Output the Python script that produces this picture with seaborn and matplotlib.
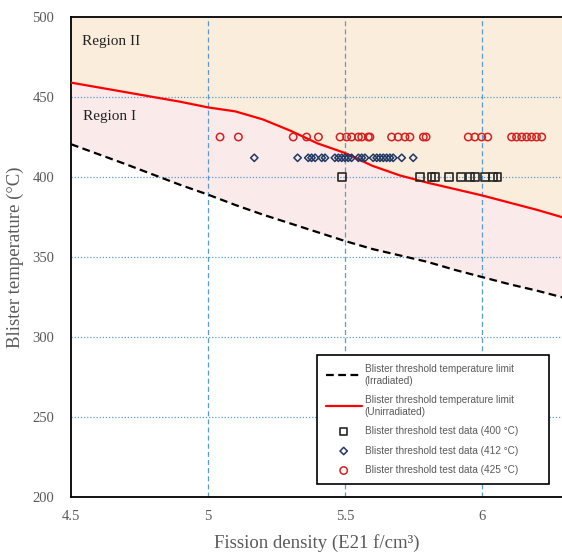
import matplotlib
matplotlib.use("Agg")
import matplotlib.pyplot as plt
import seaborn as sns
import pandas as pd

# Threshold curves (fission density in E21 f/cm3, temperature in C)
curve_fd = [4.5, 4.7, 4.9, 5.0, 5.1, 5.2, 5.3, 5.4, 5.5, 5.6, 5.7, 5.8, 5.9, 6.0, 6.1, 6.2, 6.3]
limit_irradiated = [420.5, 408, 395, 389, 382.5, 376.5, 371, 365.5, 360, 355, 351, 347, 342, 337.5, 333, 329, 324.5]
limit_unirradiated = [459, 453, 447, 443.5, 441, 436, 429, 421, 415, 407, 401, 396.5, 392.5, 388.5, 384, 379.5, 374.5]

# Blister threshold test data
fd_400 = [5.49, 5.774, 5.816, 5.828, 5.880, 5.923, 5.956, 5.974, 6.011, 6.041, 6.056]
fd_412 = [5.169, 5.327, 5.366, 5.378, 5.391, 5.415, 5.427, 5.463, 5.476, 5.488, 5.500,
          5.512, 5.524, 5.549, 5.561, 5.573, 5.603, 5.616, 5.628, 5.640, 5.652, 5.664,
          5.676, 5.707, 5.749]
fd_425 = [5.044, 5.111, 5.311, 5.360, 5.403, 5.482, 5.506, 5.524, 5.549, 5.561, 5.585,
          5.591, 5.670, 5.694, 5.719, 5.737, 5.786, 5.796, 5.950, 5.974, 5.999, 6.021,
          6.108, 6.126, 6.145, 6.163, 6.181, 6.199, 6.218]

curves = pd.DataFrame({"fd": curve_fd, "irr": limit_irradiated, "unirr": limit_unirradiated})

sns.set_theme(style="white")
plt.rcParams["font.family"] = ["Liberation Serif", "DejaVu Serif"]

fig = plt.figure(figsize=(5.62, 5.52), dpi=100)
ax = fig.add_axes([0.1263, 0.0996, 0.8737, 0.8696])

grid_c = "#5B9BD5"
ax.fill_between(curves["fd"], curves["unirr"], 500, color="#FBEDDC", lw=0, zorder=0)
ax.fill_between(curves["fd"], curves["irr"], curves["unirr"], color="#FBEAEA", lw=0, zorder=0)

for xv in [5.0, 5.5, 6.0]:
    ax.axvline(xv, color=grid_c, lw=0.9, ls=(0, (4, 2.5)), zorder=1)
for yv in [250, 300, 350, 400, 450]:
    ax.axhline(yv, color=grid_c, lw=0.9, ls=(0, (1, 1.5)), zorder=1)

sns.lineplot(data=curves, x="fd", y="irr", ax=ax, color="black", lw=1.6,
             linestyle=(0, (3.5, 2)), label="Blister threshold temperature limit\n(Irradiated)", zorder=3)
sns.lineplot(data=curves, x="fd", y="unirr", ax=ax, color="#FF0000", lw=1.6,
             label="Blister threshold temperature limit\n(Unirradiated)", zorder=3)

sns.scatterplot(x=fd_400, y=[400] * len(fd_400), ax=ax, marker="s", s=30,
                facecolor="none", edgecolor="#262626", linewidth=1.2,
                label="Blister threshold test data (400 \u00b0C)", zorder=4)
sns.scatterplot(x=fd_412, y=[412] * len(fd_412), ax=ax, marker="D", s=14,
                facecolor="none", edgecolor="#1F3864", linewidth=1.1,
                label="Blister threshold test data (412 \u00b0C)", zorder=4)
sns.scatterplot(x=fd_425, y=[425] * len(fd_425), ax=ax, marker="o", s=28,
                facecolor="none", edgecolor="#D42020", linewidth=1.1,
                label="Blister threshold test data (425 \u00b0C)", zorder=4)

ax.set_xlim(4.5, 6.292)
ax.set_ylim(200, 500)
ax.set_xticks([4.5, 5, 5.5, 6])
ax.set_xticklabels(["4.5", "5", "5.5", "6"])
ax.set_yticks([200, 250, 300, 350, 400, 450, 500])
ax.tick_params(axis="both", labelsize=10.5, colors="#595959", length=0)
ax.tick_params(axis="y", pad=12)
ax.tick_params(axis="x", pad=9)

for side in ["left", "bottom", "top"]:
    ax.spines[side].set_color("black")
    ax.spines[side].set_linewidth(1.3)
ax.spines["right"].set_visible(False)

ax.set_xlabel("Fission density (E21 f/cm\u00b3)", fontsize=13.5, color="#595959", labelpad=8)
ax.set_ylabel("Blister temperature (\u00b0C)", fontsize=13.5, color="#595959", labelpad=6)

ax.text(4.54, 485, "Region II", fontsize=11, color="#222222", va="center")
ax.text(4.545, 438, "Region I", fontsize=11, color="#222222", va="center")

leg = ax.legend(loc="upper left", bbox_to_anchor=(0.5004, 0.296, 0.474, 0.0), mode="expand",
                frameon=True, fancybox=False, edgecolor="black", framealpha=1,
                prop={"family": "Liberation Sans", "size": 7.2}, labelcolor="#595959",
                handlelength=3.6, labelspacing=0.95, borderpad=0.9, handletextpad=0.3,
                borderaxespad=0)
leg.get_frame().set_linewidth(1.2)

fig.savefig("out.png", dpi=100)
